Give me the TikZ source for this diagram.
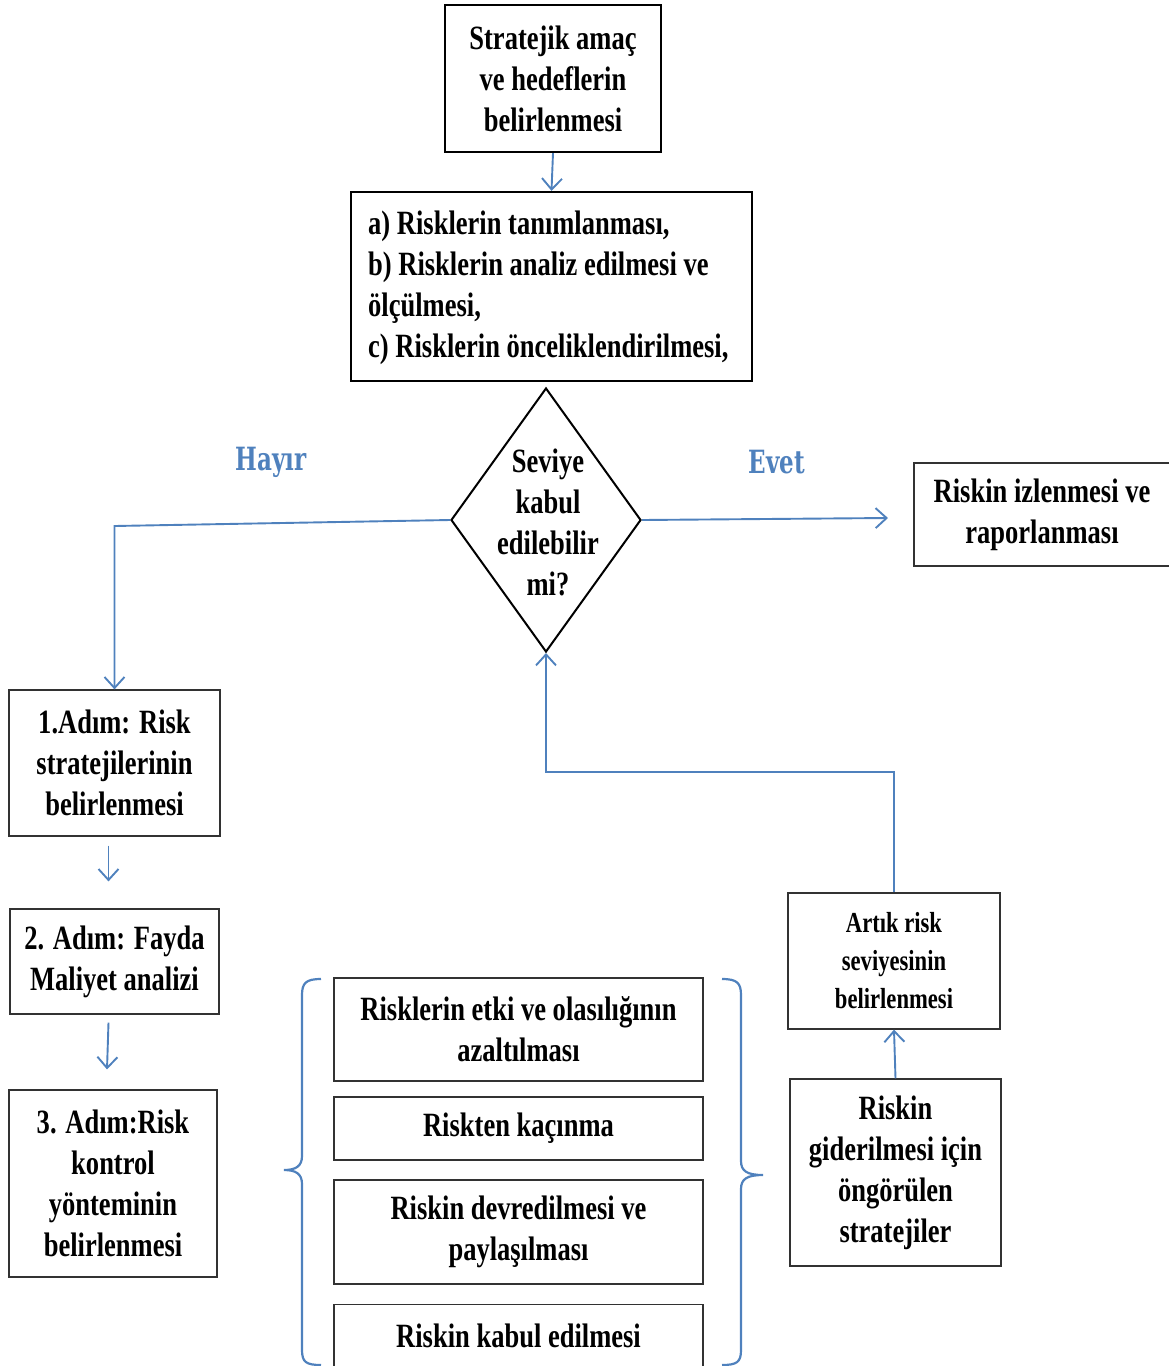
\documentclass[tikz,border=0pt]{standalone}
\usepackage{fontspec}
\setmainfont{Liberation Serif}[FakeStretch=0.78]
\newfontfamily\lblfont{DejaVu Serif}[FakeStretch=0.72]
\usetikzlibrary{arrows.meta,shapes.geometric}
\definecolor{blu}{RGB}{79,129,189}
\definecolor{bord}{RGB}{50,50,50}
\begin{document}
\begin{tikzpicture}[x=1pt,y=-1pt,
  txt/.style={font=\fontsize{34}{41}\selectfont\bfseries, align=center, inner sep=0pt},
  thickbox/.style={draw=black, line width=2.3pt, rectangle, txt},
  thinbox/.style={draw=bord, line width=1.2pt, rectangle, txt},
  arr/.style={draw=blu, line width=1.9pt, -{Straight Barb[length=11pt,width=20pt,line width=1.9pt]}},
  lbl/.style={font=\lblfont\fontsize{32}{38}\selectfont\bfseries, text=blu, inner sep=0pt},
  brace/.style={draw=blu, line width=2.2pt}]
\useasboundingbox (0,0) rectangle (1169,1366);

% top boxes
\node[thickbox, minimum width=216, minimum height=147] (goal) at (553,78.5)
  {Stratejik amaç\\ve hedeflerin\\belirlenmesi};
\node[thickbox, minimum width=401, minimum height=189] (ident) at (551.5,286.5) {};
\node[txt, align=left, anchor=west] (identtxt) at (368,288)
  {a) Risklerin tanımlanması,\\b) Risklerin analiz edilmesi ve\\ölçülmesi,\\c) Risklerin önceliklendirilmesi,};
\draw[arr] (goal.south) -- (ident.north);

% decision
\node[draw=black, line width=2pt, diamond, minimum width=190, minimum height=264, inner sep=0pt] (dec) at (546,520) {};
\node[txt] (dectxt) at (548,522) {Seviye\\kabul\\edilebilir\\mi?};

\node[lbl] (hayir) at (271,462) {Hayır};
\node[lbl] (evet) at (777,462) {Evet};

% right result
\node[thinbox, minimum width=256, minimum height=103] (monitor) at (1042,514.5)
  {Riskin  izlenmesi ve\\raporlanması};
\coordinate (evend) at (888,518);
\draw[arr] (dec.east) -- (evend);

% left steps
\node[thinbox, minimum width=211, minimum height=146] (s1) at (114.5,763) {1.Adım: Risk\\stratejilerinin\\belirlenmesi};
\node[thinbox, minimum width=209, minimum height=105] (s2) at (114.5,961.5) {2. Adım: Fayda\\Maliyet analizi};
\node[thinbox, minimum width=208, minimum height=187] (s3) at (113,1183.5) {3. Adım:Risk\\kontrol\\yönteminin\\belirlenmesi};

\coordinate (hbend) at (114.5,526);
\draw[arr] (dec.west) -- (hbend) -- (s1.north);
\draw[arr] ([xshift=-6pt,yshift=-9pt]s1.south) -- ([xshift=-6pt,yshift=27pt]s2.north);
\draw[arr] ([xshift=-6pt,yshift=-8pt]s2.south) -- ([xshift=-6pt,yshift=20pt]s3.north);

% middle strategies
\node[thinbox, minimum width=369, minimum height=103] (m1) at (518.5,1029.5) {Risklerin etki ve olasılığının\\azaltılması};
\node[thinbox, minimum width=369, minimum height=63] (m2) at (518.5,1128.5) {Riskten kaçınma};
\node[thinbox, minimum width=369, minimum height=104] (m3) at (518.5,1232) {Riskin devredilmesi ve\\paylaşılması};
\node[thinbox, minimum width=369, minimum height=68, anchor=north] (m4) at (518.5,1304) {};
\node[txt] (m4txt) at (518.5,1336) {Riskin kabul edilmesi};

% braces
\draw[brace] (321,979) .. controls (306,979) and (302,983) .. (302,995) -- (302,1156)
  .. controls (302,1166) and (296,1170) .. (284,1170)
  .. controls (296,1170) and (302,1174) .. (302,1184) -- (302,1350)
  .. controls (302,1362) and (306,1365) .. (321,1365);
\draw[brace] (722,979) .. controls (737,979) and (741,983) .. (741,995) -- (741,1161)
  .. controls (741,1171) and (747,1175) .. (763,1175)
  .. controls (747,1175) and (741,1179) .. (741,1189) -- (741,1350)
  .. controls (741,1362) and (737,1365) .. (722,1365);

% right column
\node[thinbox, minimum width=212, minimum height=136, font=\fontsize{29}{38}\selectfont\bfseries] (artik) at (894,961) {Artık risk\\seviyesinin\\belirlenmesi};
\node[thinbox, minimum width=211, minimum height=187] (strat) at (895.5,1172.5) {Riskin\\giderilmesi için\\öngörülen\\stratejiler};
\draw[arr] (strat.north) -- (artik.south);

\coordinate (fb1) at (894,772);
\coordinate (fb2) at (546,772);
\draw[arr] (artik.north) -- (fb1) -- (fb2) -- (dec.south);
\end{tikzpicture}
\end{document}
